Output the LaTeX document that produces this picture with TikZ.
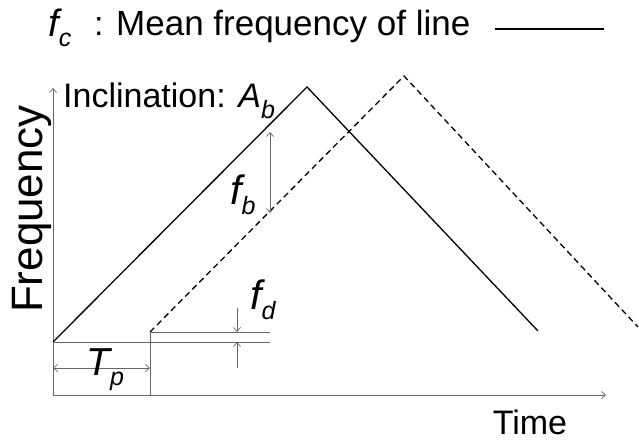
\documentclass[tikz,border=0pt]{standalone}
\usepackage{fontspec}
\setmainfont{Liberation Sans}
\usetikzlibrary{arrows.meta}
\newcommand\mylab[2]{{\itshape #1}\raisebox{-10pt}{\fontsize{25}{27}\selectfont\itshape #2}}
\begin{document}
\begin{tikzpicture}[x=1pt,y=-1pt,
  axisline/.style={draw=black!60, line width=0.9pt},
  guide/.style={draw=black!60, line width=0.9pt},
  barb/.style={-{Straight Barb[length=4pt,width=7pt,line width=0.7pt]}},
  dbarb/.style={{Straight Barb[length=4pt,width=7pt,line width=0.7pt]}-{Straight Barb[length=4pt,width=7pt,line width=0.7pt]}},
  curve/.style={draw=black, line width=1.3pt},
  txt/.style={inner sep=0pt, text depth=0pt, font=\fontsize{34}{38}\selectfont},
  ilab/.style={inner sep=0pt, font=\fontsize{41}{44}\selectfont},
]
\useasboundingbox (0,0) rectangle (639,441);

% title
\node[ilab, anchor=base west, font=\fontsize{38}{40}\selectfont] (fc) at (48,37) {\mylab{f}{c}};
\node[txt, anchor=base west] (colon) at (94,36) {:};
\node[txt, anchor=base west, font=\fontsize{35}{38}\selectfont] (mean) at (116,36) {Mean frequency of line};
\coordinate (ls) at (495,29);
\coordinate (le) at (604,29);
\draw[curve] (ls) -- (le);

% axes
\coordinate (O) at (53,395);
\coordinate (ytop) at (53,88);
\coordinate (xend) at (606,395);
\draw[axisline, barb] (O) -- (ytop);
\draw[axisline, barb] (O) -- (xend);
\node[inner sep=0pt, font=\fontsize{44}{46}\selectfont, rotate=90, anchor=base] (freq) at (42,209) {Frequency};
\node[txt, anchor=base] (time) at (530,434) {Time};

% solid triangle
\coordinate (s0) at (53,342);
\coordinate (s1) at (307,87);
\coordinate (s2) at (538,331);
\draw[curve] (s0) -- (s1) -- (s2);

% dashed triangle
\coordinate (d0) at (150,332);
\coordinate (d1) at (404,76);
\coordinate (d2) at (638,327);
\draw[curve, dash pattern=on 6pt off 4pt] (d0) -- (d1) -- (d2);

% guide lines
\coordinate (tpb) at (150,395);
\coordinate (h1e) at (270,342);
\coordinate (h2e) at (270,332);
\draw[guide] (d0) -- (tpb);
\draw[guide] (s0) -- (h1e);
\draw[guide] (d0) -- (h2e);

% f_d arrows
\coordinate (fdt) at (237,308);
\coordinate (fdu) at (237,332);
\coordinate (fdl) at (237,342);
\coordinate (fdb) at (237,368);
\draw[guide, barb] (fdt) -- (fdu);
\draw[guide, barb] (fdb) -- (fdl);

% T_p arrow
\coordinate (tpl) at (53,368);
\coordinate (tpr) at (150,368);
\draw[guide, dbarb] (tpl) -- (tpr);

% f_b arrow
\coordinate (fbt) at (270,132);
\coordinate (fbb) at (270,213);
\draw[guide, dbarb] (fbt) -- (fbb);

% labels
\node[txt, anchor=base west] (incl) at (63,108) {Inclination: \mylab{A}{b}};
\node[ilab, anchor=base west] (fb) at (230,204) {\mylab{f}{b}};
\node[ilab, anchor=base west] (fd) at (250,309) {\mylab{f}{d}};
\node[ilab, anchor=base west, font=\fontsize{39}{42}\selectfont] (tp) at (86,375) {\mylab{T}{p}};
\end{tikzpicture}
\end{document}
